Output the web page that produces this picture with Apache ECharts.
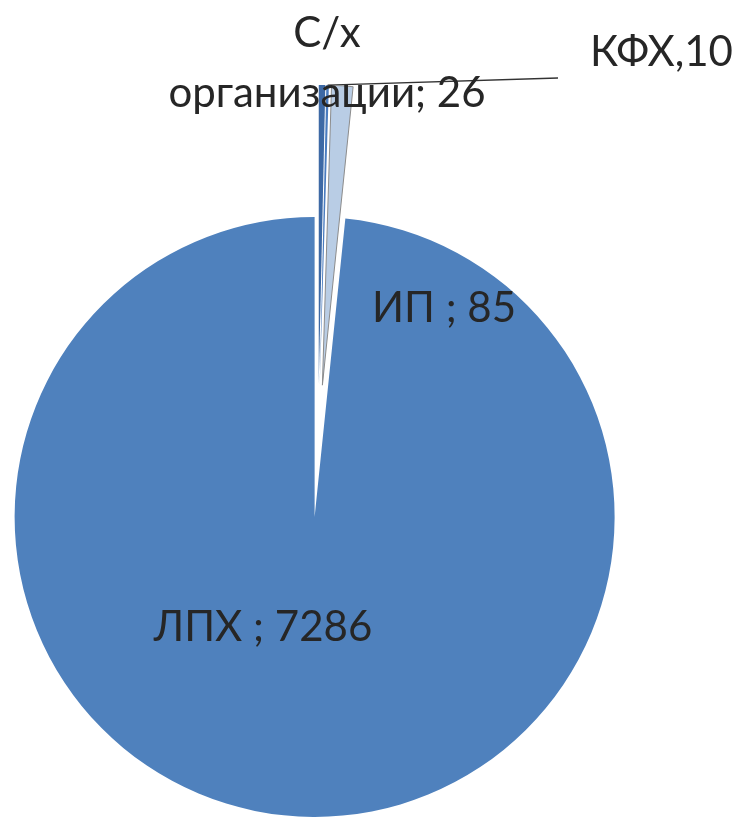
<!DOCTYPE html>
<html>
<head>
<meta charset="utf-8">
<script src="https://cdn.jsdelivr.net/npm/echarts@6/dist/echarts.min.js"></script>
<style>
  html, body { margin: 0; padding: 0; background: #ffffff; }
  #chart { width: 738px; height: 818px; }
</style>
</head>
<body>
<div id="chart"></div>
<script>
// Число хозяйств по категориям
const categories = ['С/х организации', 'КФХ', 'ИП', 'ЛПХ'];
const counts = [26, 10, 85, 7286];
const labelSeparators = ['; ', ',', ' ; ', ' ; '];

// Оформление секторов
const sliceColors = ['#3D69A5', '#4A7CBF', '#B9CDE5', '#4F81BD'];
const sliceBorders = [null, null, '#8C8C8C', null];

// Места подписей (в пикселях холста)
const labelPlaces = [
  { x: 327, y: 63, align: 'center' },
  { x: 590, y: 52, align: 'left' },
  { x: 444, y: 308, align: 'center' },
  { x: 263, y: 627, align: 'center' }
];

const pieCenter = [318, 451];
const pieRadius = 300;
const explode = 66;

const textColor = '#262626';
const fontFamily = 'Lato, "Open Sans", "Noto Sans", sans-serif';

function labelText(p) {
  const i = p.dataIndex;
  const name = i === 0 ? p.name.replace(' ', '\n') : p.name;
  return name + labelSeparators[i] + p.value;
}

const chart = echarts.init(document.getElementById('chart'), null, { renderer: 'canvas' });

// Выдвинутые секторы
const sliceData = categories.map(function (name, i) {
  const border = sliceBorders[i];
  const style = {
    color: sliceColors[i],
    borderColor: border || sliceColors[i],
    borderWidth: border ? 1 : 0
  };
  return {
    name: name,
    value: counts[i],
    selected: true,
    itemStyle: style,
    select: { itemStyle: style }
  };
});

// Слой подписей: те же значения, прозрачные секторы; внешний край совпадает
// с краем выдвинутых секторов, чтобы выноска начиналась у сектора
const labelData = categories.map(function (name, i) {
  const item = { name: name, value: counts[i] };
  if (i === 1) {
    item.label = { position: 'outside' };
    item.labelLine = { show: true, length: 10, length2: 10 };
  }
  return item;
});

chart.setOption({
  animation: false,
  backgroundColor: '#ffffff',
  series: [{
    type: 'pie',
    center: pieCenter,
    radius: pieRadius,
    startAngle: 90,
    clockwise: true,
    selectedMode: 'multiple',
    selectedOffset: explode,
    avoidLabelOverlap: false,
    emphasis: { disabled: true },
    label: { show: false },
    labelLine: { show: false },
    data: sliceData
  }, {
    type: 'pie',
    silent: true,
    center: pieCenter,
    radius: pieRadius + explode,
    startAngle: 90,
    clockwise: true,
    selectedMode: false,
    avoidLabelOverlap: false,
    emphasis: { disabled: true },
    itemStyle: { color: 'rgba(0,0,0,0)', borderWidth: 0 },
    label: {
      show: true,
      position: 'inside',
      formatter: labelText,
      color: textColor,
      fontFamily: fontFamily,
      fontSize: 42,
      lineHeight: 60
    },
    labelLine: { show: false, lineStyle: { color: '#333333', width: 1.4 } },
    labelLayout: function (params) {
      const place = labelPlaces[params.dataIndex];
      const out = {
        x: place.x,
        y: place.y,
        align: place.align,
        verticalAlign: 'middle',
        hideOverlap: false,
        moveOverlap: false
      };
      if (params.labelLinePoints && params.labelLinePoints.length) {
        const start = params.labelLinePoints[0];
        out.labelLinePoints = [start, [place.x - 32, place.y + 26]];
      }
      return out;
    },
    data: labelData
  }]
});
</script>
</body>
</html>
